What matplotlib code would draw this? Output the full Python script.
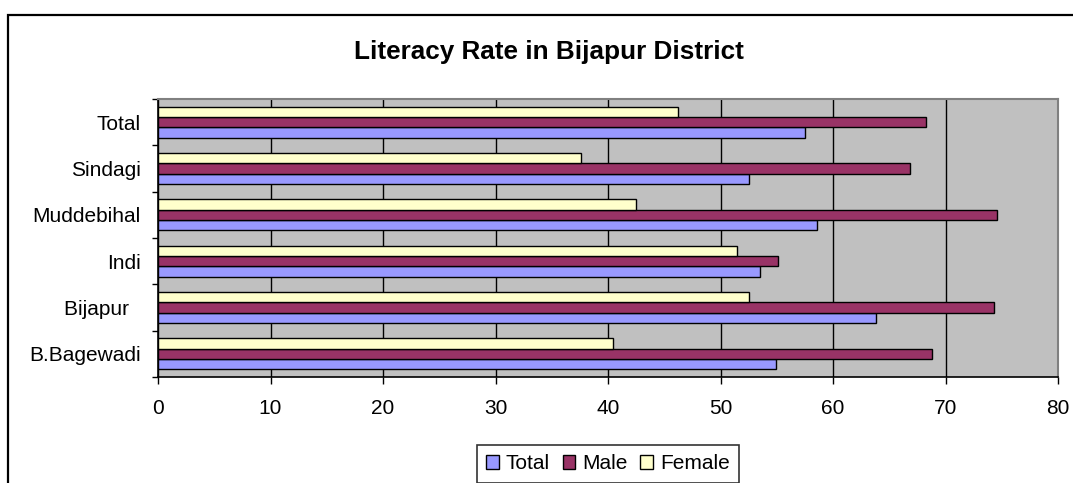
import matplotlib.pyplot as plt
import matplotlib.patches as mpatches
import numpy as np

# Literacy rate (%) per taluk, bottom to top on the chart
taluks = ["B.Bagewadi", "Bijapur  ", "Indi", "Muddebihal", "Sindagi", "Total"]
total = [54.9, 63.8, 53.5, 58.6, 52.5, 57.5]
male = [68.8, 74.3, 55.1, 74.6, 66.8, 68.3]
female = [40.4, 52.5, 51.5, 42.5, 37.6, 46.2]
series_names = ["Total", "Male", "Female"]
x_ticks = [0, 10, 20, 30, 40, 50, 60, 70, 80]

plt.rcParams['font.family'] = ['Liberation Sans', 'DejaVu Sans']

W, H = 1073, 483
fig = plt.figure(figsize=(W / 100, H / 100), dpi=100)
fig.patch.set_facecolor("white")

# chart border (runs off the right and bottom edge)
border = mpatches.Rectangle((8 / W, -0.2), 1.2, 1.2 - 15 / H, transform=fig.transFigure,
                            fill=False, edgecolor="black", linewidth=1.6)
fig.patches.append(border)

ax = fig.add_axes([158 / W, 1 - 377 / H, 900 / W, 278 / H])
ax.set_facecolor("#C0C0C0")

y = np.arange(len(taluks))
h = 1 / 4.5
colors = ["#9999FF", "#993366", "#FFFFCC"]
for i, (vals, c) in enumerate(zip([total, male, female], colors)):
    ax.barh(y + (i - 1) * h, vals, height=h, color=c, edgecolor="black",
            linewidth=1.0, label=series_names[i], zorder=3)

ax.set_xlim(0, 80)
ax.set_ylim(-0.5, len(taluks) - 0.5)
ax.set_xticks(x_ticks)
ax.xaxis.grid(True, color="black", linewidth=1.0, zorder=1)
ax.set_axisbelow(True)

ax.set_yticks(y)
ax.set_yticklabels(taluks)
ax.set_yticks(np.arange(-0.5, len(taluks)), minor=True)
ax.tick_params(axis="y", which="major", length=0, pad=12.5, labelsize=15)
ax.tick_params(axis="y", which="minor", length=4, width=1, color="black")
ax.tick_params(axis="x", length=5, width=1, pad=11, labelsize=15)

for side in ["top", "right"]:
    ax.spines[side].set_color("#808080")
    ax.spines[side].set_linewidth(1.5)
for side in ["left", "bottom"]:
    ax.spines[side].set_color("black")
    ax.spines[side].set_linewidth(1.2)

fig.text(549 / W, 1 - 59 / H, "Literacy Rate in Bijapur District", ha="center",
         va="baseline", fontsize=18.8, fontweight="bold")

leg = fig.legend(loc="upper center", bbox_to_anchor=(608 / W, 1 - 445 / H), ncol=3,
                 fontsize=15, frameon=True, fancybox=False, handlelength=0.6,
                 handleheight=0.6, handletextpad=0.35, columnspacing=0.6,
                 borderpad=0.45, borderaxespad=0)
leg.get_frame().set_edgecolor("black")
leg.get_frame().set_linewidth(1.2)

fig.savefig("out.png", dpi=100)
